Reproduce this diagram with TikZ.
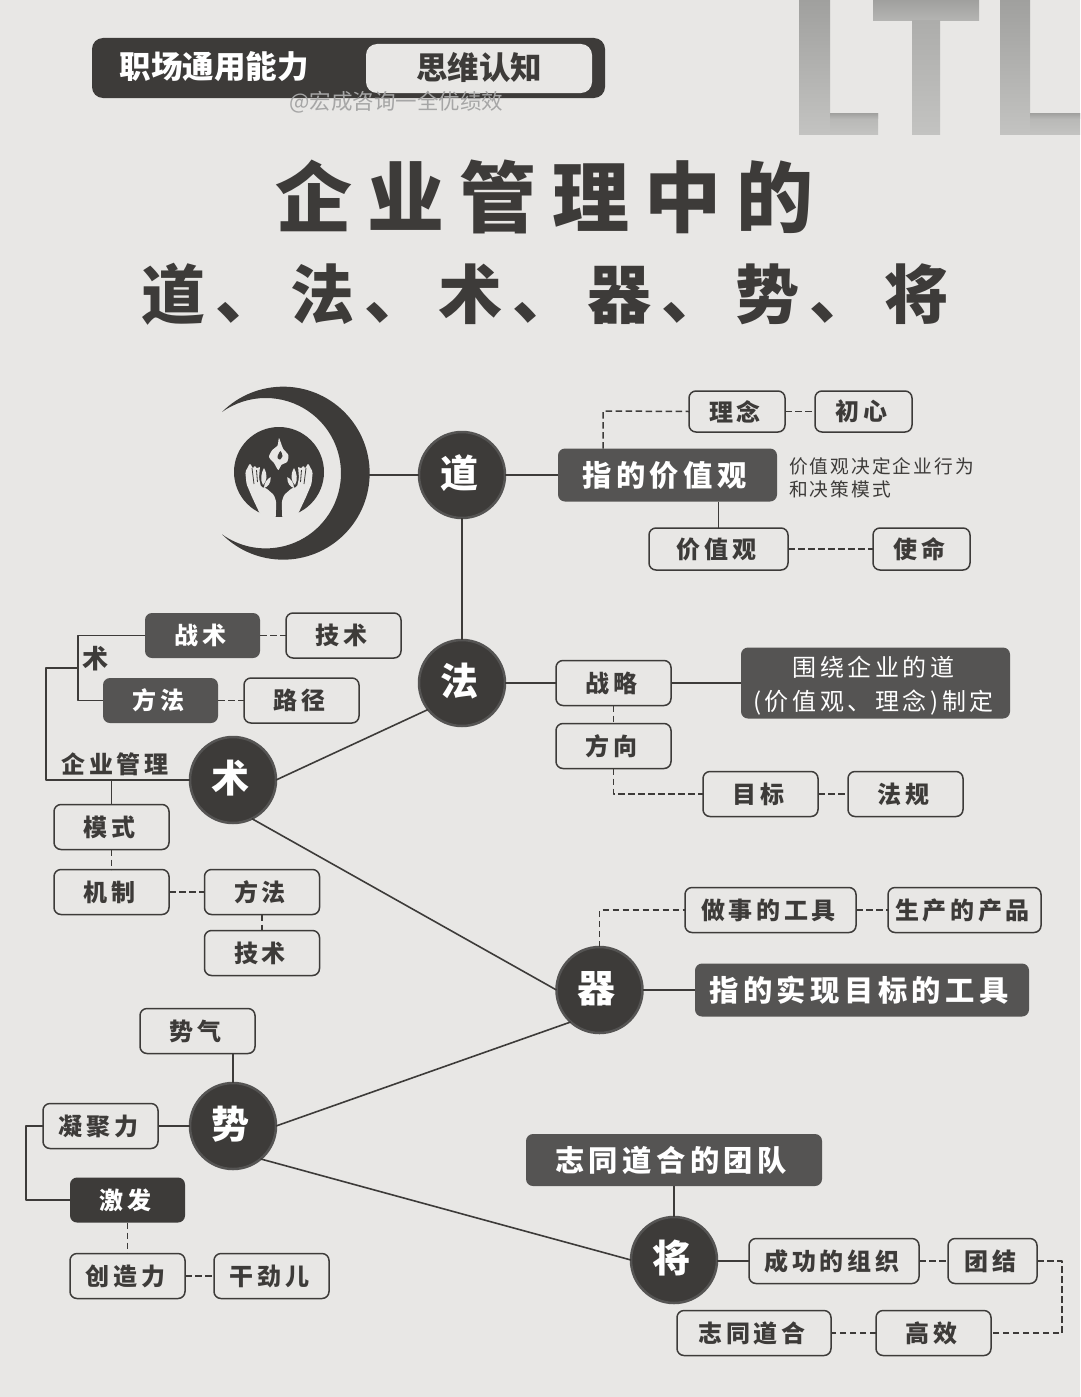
\documentclass[tikz,border=0pt]{standalone}
\usepackage{fontspec}
\usetikzlibrary{arrows.meta,shapes,positioning}
\usetikzlibrary{calc}
\setmainfont{Noto Sans CJK SC}
\newfontfamily\cjkwide[LetterSpace=15]{Noto Sans CJK SC}
\newfontfamily\cjknote[LetterSpace=11]{Noto Sans CJK SC}
\newfontfamily\cjkhead[LetterSpace=19.5]{Noto Sans CJK SC Black}
\newfontfamily\cjksub[LetterSpace=16]{Noto Sans CJK SC Black}
\newfontfamily\cjktag{Noto Sans CJK SC Black}
\newfontfamily\cjkhub[LetterSpace=20]{Noto Sans CJK SC}
\definecolor{paper}{HTML}{E8E7E5}
\definecolor{ink}{HTML}{3D3B39}
\definecolor{slate}{HTML}{555453}
\definecolor{ltltop}{HTML}{A0A09E}
\definecolor{ltlmid}{HTML}{B5B5B3}
\definecolor{ltlstem}{HTML}{ADADAB}
\definecolor{ltlbot}{HTML}{C3C3C1}
\newcommand{\fsz}[1]{\fontsize{#1}{#1}\selectfont}
\newcommand{\drawHand}[1]{
    \begin{scope}[shift={(279,0)},xscale=#1]
        \fill[paper,rounded corners=1.5pt] (-29,463) -- (-33.7,472) -- (-32.5,484) -- (-27,497) -- (-19,514)
            -- (-5,520) -- (-3.3,517.7) -- (-2.7,502) -- (-5,495) -- (-13,488) -- (-18,487) -- (-20,478)
            -- (-19,466) -- (-22,469) -- (-24.5,465) -- (-26,469) -- cycle;
        \draw[ink,line width=0.8pt] (-27,468) -- (-25,484);
        \draw[ink,line width=0.8pt] (-22.5,470) -- (-21.5,482);
        % leaves
        \fill[paper] (-15,468) .. controls (-11,475) and (-12,481) .. (-16,485) .. controls (-19,480) and (-18,473) .. (-15,468);
        \fill[paper] (-8.3,477) .. controls (-8,483) and (-11,487) .. (-15,488) .. controls (-15,483) and (-12,479) .. (-8.3,477);
    \end{scope}
}
\newcommand{\ltlBar}[6]{
    \shade[top color=#5,bottom color=#6] (#1,#2) rectangle (#3,#4);
}
\begin{document}
\begin{tikzpicture}[x=1pt,y=-1pt,line cap=butt,line join=round,
    hub/.style={circle,draw=slate,fill=ink,line width=2.5pt,minimum size=86pt,inner sep=0pt,outer sep=0pt,text=white,text height=30pt,text depth=5.2pt,execute at end node={\hspace*{6pt}},font={\cjkhub\bfseries\fsz{38}}},
    plainbox/.style={draw=ink,line width=1.5pt,rounded corners=7pt,minimum width=115pt,minimum height=45pt,inner sep=0pt,outer sep=0pt,text=ink,execute at end node={\hspace*{4pt}},font={\cjkwide\bfseries\fsz{24}}},
    darkbox/.style={fill=slate,rounded corners=7pt,minimum width=115pt,minimum height=45pt,inner sep=0pt,outer sep=0pt,text=white,execute at end node={\hspace*{4pt}},font={\cjkwide\bfseries\fsz{24}}},
    headbox/.style={darkbox,minimum height=53pt,execute at end node={\hspace*{2pt}},font={\cjkwide\bfseries\fsz{29.3}}},
    solidline/.style={draw=ink,line width=1.6pt},
    dashline/.style={draw=ink,line width=1.5pt,dash pattern=on 6.5pt off 3.5pt},
    ]

    \useasboundingbox (0,0) rectangle (1080,1397);
    \fill[paper] (0,0) rectangle (1080,1397);

    % --- Corner letters ---
    \ltlBar{799}{0}{830}{134}{ltltop}{ltlbot}
    \ltlBar{830}{113}{878}{134}{ltlmid}{ltlbot}
    \ltlBar{830}{113}{878}{118}{ltltop}{ltlmid}
    \ltlBar{873}{0}{979}{21}{ltltop}{ltlmid}
    \ltlBar{912}{21}{940}{134}{ltlstem}{ltlbot}
    \ltlBar{1000}{0}{1030}{134}{ltltop}{ltlbot}
    \ltlBar{1030}{113}{1080}{134}{ltlmid}{ltlbot}
    \ltlBar{1030}{113}{1080}{118}{ltltop}{ltlmid}

    % --- Header ---
    \fill[ink,rounded corners=11pt] (92,38) rectangle (605,98);
    \fill[paper,rounded corners=11pt] (366,44) rectangle (592,93);
    \node[text=white,font={\cjktag\fsz{31.5}}] (tagleft) at (214,67) {职场通用能力};
    \node[text=ink,font={\cjktag\fsz{31.5}}] (tagright) at (479,67) {思维认知};
    \node[text=black!35,font={\fsz{21.5}}] (mark) at (396.5,102) {@宏成咨询一全优绩效};

    % --- Title ---
    \node[text=ink,font={\cjkhead\fsz{77}}] (titleone) at (544.5,197) {企业管理中的};
    \node[text=ink,font={\cjksub\fsz{64}}] (titletwo) at (545,294) {道、法、术、器、势、将};

    % --- Moon and hands ---
    \fill[ink] (222,412) arc[start angle=135,end angle=-135,radius=86.5pt]
        arc[start angle=-125.6,end angle=125.6,radius=75.2pt] -- cycle;
    \fill[ink] (279,472) circle (45pt);
    \drawHand{1}
    \drawHand{-1}
    % flame
    \begin{scope}[shift={(279,0)}]
        \fill[paper] plot[smooth cycle,tension=0.45] coordinates {(0,438) (2.3,444) (4.3,449) (9.3,455) (8.3,461.7) (2.3,465) (-0.7,470) (-5,463) (-10,457) (-6.7,450) (-1.7,446) (-0.7,441.7)};
        \fill[ink] plot[smooth cycle,tension=0.45] coordinates {(1.5,451) (3.5,456) (1,459.5) (-1.5,458) (-1,455)};
    \end{scope}
    \coordinate (moonedge) at (369,475);

    % --- Main circles ---
    \node[hub] (dao) at (462,475) {道};
    \node[hub] (fa) at (462,683) {法};
    \node[hub] (shu) at (233,780) {术};
    \node[hub] (qi) at (599.5,990) {器};
    \node[hub] (shi) at (233,1126) {势};
    \node[hub] (jiang) at (674,1260) {将};

    % --- Dao branch ---
    \node[headbox,minimum width=219pt] (valuehead) at (667.5,475) {指的价值观};
    \node[plainbox,minimum width=96pt,minimum height=41pt] (linian) at (737,411.5) {理念};
    \node[plainbox,minimum width=97pt,minimum height=41pt] (chuxin) at (863.5,411.5) {初心};
    \node[plainbox,minimum width=139pt,minimum height=42pt] (valuebox) at (718.5,549) {价值观};
    \node[plainbox,minimum width=97pt,minimum height=42pt] (shiming) at (921.5,549) {使命};
    \node[anchor=west,align=left,text=ink,font={\cjknote\fontsize{18.7}{23}\selectfont}] (valuenote) at (785.5,477.5) {价值观决定企业行为\\和决策模式};
    \coordinate (valueturn) at (603,411);

    \draw[solidline] (moonedge) -- (dao.west);
    \draw[solidline] (dao.east) -- (valuehead.west);
    \draw[solidline] (dao.south) -- (fa.north);
    \draw[dashline] (valueturn |- valuehead.north) -- (valueturn) -- (linian.west);
    \draw[dashline] (linian.east) -- (chuxin.west);
    \draw[solidline] (valuebox.north |- valuehead.south) -- (valuebox.north);
    \draw[dashline] (valuebox.east) -- (shiming.west);

    % --- Fa branch ---
    \node[plainbox] (zhanlue) at (613.5,683) {战略};
    \node[plainbox] (fangxiang) at (613.5,746) {方向};
    \node[plainbox] (mubiao) at (760.5,794) {目标};
    \node[plainbox] (fagui) at (905.5,794) {法规};
    \node[darkbox,minimum width=269pt,minimum height=71pt,align=center,font={\cjkwide\fontsize{24}{34}\selectfont}] (fanote) at (875.5,683) {\rule{0pt}{25pt}围绕企业的道\\(价值观、理念)制定};

    \draw[solidline] (fa.east) -- (zhanlue.west);
    \draw[solidline] (zhanlue.east) -- (fanote.west);
    \draw[dashline] (zhanlue.south) -- (fangxiang.north);
    \draw[dashline] (fangxiang.south) |- (mubiao.west);
    \draw[dashline] (mubiao.east) -- (fagui.west);

    % --- Shu branch ---
    \node[darkbox] (zhanshu) at (202.5,635.5) {战术};
    \node[plainbox] (jishu) at (343.5,635.5) {技术};
    \node[darkbox] (fangfa) at (160.5,700.5) {方法};
    \node[plainbox] (lujing) at (301.5,700.5) {路径};
    \node[text=ink,font={\bfseries\fsz{26}}] (shulabel) at (95,659) {术};
    \node[text=ink,font={\cjkwide\bfseries\fsz{24}}] (qiye) at (115,764) {企业管理};
    \node[plainbox] (moshi) at (111.5,827) {模式};
    \node[plainbox] (jizhi) at (111.5,892) {机制};
    \node[plainbox] (fangfatwo) at (262,892) {方法};
    \node[plainbox] (jishutwo) at (262,953) {技术};
    \coordinate (shuturn) at (46,780);
    \coordinate (shufork) at (78,668);

    \draw[solidline] (shu.east) -- (fa.218);
    \draw[solidline] (shu.-64) -- (qi.west);
    \draw[solidline] (shu.west) -- (shuturn) |- (shufork);
    \draw[solidline] (zhanshu.west) -| (shufork);
    \draw[solidline] (fangfa.west) -| (shufork);
    \draw[dashline] (zhanshu.east) -- (jishu.west);
    \draw[dashline] (fangfa.east) -- (lujing.west);
    \draw[solidline] (moshi.north |- shu.west) -- (moshi.north);
    \draw[dashline] (moshi.south) -- (jizhi.north);
    \draw[dashline] (jizhi.east) -- (fangfatwo.west);
    \draw[dashline] (fangfatwo.south) -- (jishutwo.north);

    % --- Qi branch ---
    \node[headbox,minimum width=334pt] (shixian) at (862,990) {指的实现目标的工具};
    \node[plainbox,minimum width=171pt] (zuoshi) at (770.5,910) {做事的工具};
    \node[plainbox,minimum width=153pt] (chanpin) at (964.5,910) {生产的产品};

    \draw[solidline] (qi.east) -- (shixian.west);
    \draw[dashline] (qi.north) |- (zuoshi.west);
    \draw[dashline] (zuoshi.east) -- (chanpin.west);

    % --- Shi branch ---
    \node[plainbox] (shiqi) at (197.5,1031) {势气};
    \node[plainbox] (ningju) at (100.5,1126) {凝聚力};
    \node[darkbox,fill=ink] (jifa) at (127.5,1200) {激发};
    \node[plainbox] (chuangzao) at (127.5,1276) {创造力};
    \node[plainbox] (ganjin) at (271.5,1276) {干劲儿};
    \coordinate (shiturn) at (26,1126);

    \draw[solidline] (shi.east) -- (qi.228);
    \draw[solidline] (shi.-50) -- (jiang.west);
    \draw[solidline] (shi.north) -- (shi.north |- shiqi.south);
    \draw[solidline] (shi.west) -- (ningju.east);
    \draw[solidline] (ningju.west) -- (shiturn) |- (jifa.west);
    \draw[dashline] (jifa.south) -- (chuangzao.north);
    \draw[dashline] (chuangzao.east) -- (ganjin.west);

    % --- Jiang branch ---
    \node[headbox,minimum width=296pt,minimum height=52pt] (team) at (674,1160) {志同道合的团队};
    \node[plainbox,minimum width=170pt] (chenggong) at (834,1261) {成功的组织};
    \node[plainbox,minimum width=89pt] (tuanjie) at (992.5,1261) {团结};
    \node[plainbox,minimum width=154pt] (zhitong) at (754,1333) {志同道合};
    \node[plainbox] (gaoxiao) at (933.5,1333) {高效};
    \coordinate (jiangturn) at (1062,1261);

    \draw[solidline] (jiang.north) -- (team.south);
    \draw[solidline] (jiang.east |- chenggong.west) -- (chenggong.west);
    \draw[dashline] (chenggong.east) -- (tuanjie.west);
    \draw[dashline] (tuanjie.east) -- (jiangturn) |- (gaoxiao.east);
    \draw[dashline] (gaoxiao.west) -- (zhitong.east);

\end{tikzpicture}
\end{document}
